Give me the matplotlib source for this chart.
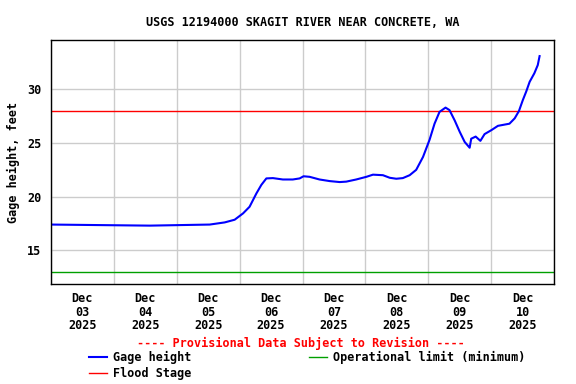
import numpy as np
import pandas as pd
import matplotlib
matplotlib.use("Agg")
import matplotlib.pyplot as plt
import matplotlib.dates as mdates

# gage height readings, hours after Dec 03 2025 00:00
hours = [0, 18.6, 37.7, 49.1, 60.6, 66.3, 70.1, 73.3, 75.8, 78.4, 80.3, 82.2,
         84.7, 88.5, 92.3, 94.9, 96.4, 98.7, 102.5, 106.4, 110.2, 112.7, 116.5,
         120.4, 122.9, 126.7, 129.3, 131.8, 134.3, 136.9, 139.4, 142.0, 144.5,
         146.4, 148.3, 150.6, 152.1, 154.1, 156.0, 157.9, 159.8, 160.4, 162.1,
         163.9, 165.5, 168.1, 170.6, 175.0, 177.0, 178.6, 180.1, 181.4, 182.7,
         184.5, 185.8, 186.5]
gage = [17.4, 17.35, 17.3, 17.35, 17.4, 17.6, 17.85, 18.44, 19.06, 20.3, 21.1, 21.7,
        21.73, 21.6, 21.6, 21.7, 21.9, 21.85, 21.6, 21.45, 21.36, 21.4, 21.6,
        21.85, 22.05, 22.0, 21.76, 21.67, 21.73, 22.0, 22.5, 23.7, 25.3,
        26.8, 27.9, 28.3, 28.07, 27.1, 26.05, 25.1, 24.56, 25.4, 25.6,
        25.2, 25.83, 26.2, 26.6, 26.8, 27.3, 27.97, 29.0, 29.8, 30.7,
        31.5, 32.26, 33.1]
flood_stage = 28.0
op_limit = 13.0
days = ["03", "04", "05", "06", "07", "08", "09", "10"]

start = pd.Timestamp("2025-12-03")
t = start + pd.to_timedelta(hours, unit="h")

font = {"family": "DejaVu Sans Mono", "weight": "bold", "size": 8.5}
plt.rcParams["font.family"] = "DejaVu Sans Mono"
plt.rcParams["font.weight"] = "bold"
plt.rcParams["axes.labelweight"] = "bold"
plt.rcParams["font.size"] = 8.5

fig = plt.figure(figsize=(5.76, 3.84), dpi=100)
ax = fig.add_axes([51 / 576, 1 - 284 / 384, 503 / 576, 244 / 384])

fl, = ax.plot([start, start + pd.Timedelta(days=8)], [flood_stage] * 2,
              color="red", lw=1, label="Flood Stage")
ol, = ax.plot([start, start + pd.Timedelta(days=8)], [op_limit] * 2,
              color="#00a000", lw=1, label="Operational limit (minimum)")
gl, = ax.plot(t, gage, color="blue", lw=1.5, label="Gage height")

ax.set_xlim(start, start + pd.Timedelta(days=8))
ax.set_ylim(11.86, 34.6)
ax.set_yticks([15, 20, 25, 30])
for lab in ax.get_yticklabels():
    lab.set_fontweight("bold")

ax.xaxis.set_major_locator(mdates.DayLocator())
ax.xaxis.set_major_formatter(plt.NullFormatter())
noon = [start + pd.Timedelta(days=i, hours=12) for i in range(8)]
ax.set_xticks(noon, minor=True)
ax.set_xticklabels(["Dec\n%s\n2025" % d for d in days], minor=True,
                   linespacing=1.05, fontweight="bold")
ax.tick_params(which="both", length=0, pad=6)
ax.tick_params(axis="y", pad=7)
ax.grid(True, which="major", color="#cccccc", lw=1)
ax.set_axisbelow(True)
for s in ax.spines.values():
    s.set_linewidth(1)

ax.set_ylabel("Gage height, feet", labelpad=5, fontweight="bold")
fig.text(303 / 576, 1 - 22 / 384, "USGS 12194000 SKAGIT RIVER NEAR CONCRETE, WA",
         ha="center", va="center", **font)
fig.text(301 / 576, 1 - 343 / 384, "---- Provisional Data Subject to Revision ----",
         ha="center", va="center", color="red", **font)

fig.legend(handles=[gl, fl, ol], ncol=2, frameon=False, loc="upper left",
           bbox_to_anchor=(83 / 576, 1 - 345 / 384), borderpad=0,
           handlelength=1.5, handletextpad=0.5, labelspacing=0.25,
           columnspacing=10, prop=font)

fig.savefig("out.png", dpi=100)
